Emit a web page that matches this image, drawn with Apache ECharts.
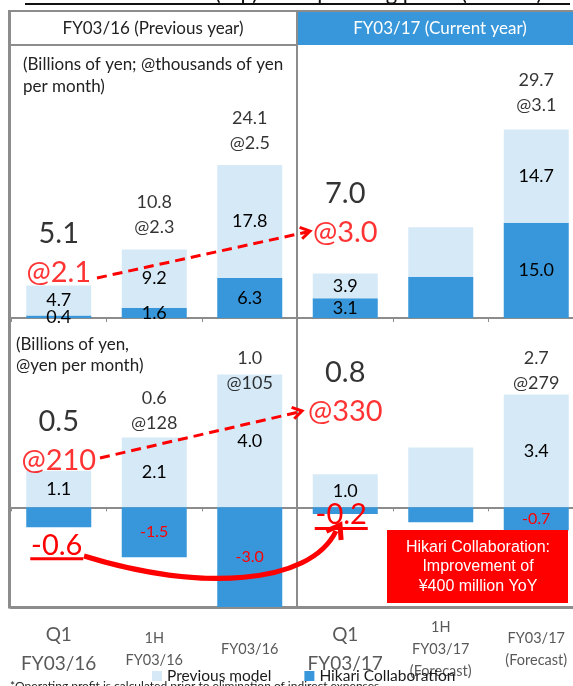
<!DOCTYPE html>
<html><head><meta charset="utf-8">
<script src="https://cdn.jsdelivr.net/npm/echarts@6/dist/echarts.min.js"></script>
<style>html,body{margin:0;padding:0;background:#fff}#c{width:573px;height:686px}</style>
</head><body><div id="c"></div>
<script>
// ---- data ----
const categories = ['Q1\nFY03/16', '1H\nFY03/16', 'FY03/16', 'Q1\nFY03/17', '1H\nFY03/17\n(Forecast)', 'FY03/17\n(Forecast)'];
const bigCategory = [true, false, false, true, false, false];
const hikariSales = [0.4, 1.6, 6.3, 3.1, 6.5, 15.0];
const prevSales = [4.7, 9.2, 17.8, 3.9, 7.8, 14.7];
const salesTotals = [5.1, 10.8, 24.1, 7.0, null, 29.7];
const salesARPU = ['@2.1', '@2.3', '@2.5', '@3.0', null, '@3.1'];
const prevProfit = [1.1, 2.1, 4.0, 1.0, 1.8, 3.4];
const hikariProfit = [-0.6, -1.5, -3.0, -0.2, -0.45, -0.7];
const profitTotals = [0.5, 0.6, 1.0, 0.8, null, 2.7];
const profitARPU = ['@210', '@128', '@105', '@330', null, '@279'];
const legendNames = ['Previous model', 'Hikari Collaboration'];

// ---- styles ----
const BLUE = '#3797DA', LIGHT = '#D6E9F7', GRID = '#8C8C8C', RED = '#FF0000';
const FONT = 'Lato';
const hiddenLabel = [false, false, false, false, true, false];
const salesOffsets = [7, -10, -9.5, -21.6, 0, -12];
const profitOffsets = [9, -1.5, 21, -42.6, 0, 1.6];
const bigNegOffsets = {0: [-2, 6], 3: [-4, -11]};

const chart = echarts.init(document.getElementById('c'), null, {renderer: 'canvas'});

function plainBar(vals) {
  return vals.map((v, i) => ({
    value: v,
    label: {show: !hiddenLabel[i]}
  }));
}
const barLabel = {show: true, position: 'inside', color: '#000', fontFamily: FONT, fontSize: 18,
  formatter: p => p.value.toFixed(1)};

function hikariProfitData() {
  return hikariProfit.map((v, i) => {
    if (hiddenLabel[i]) return {value: v, label: {show: false}};
    if (bigNegOffsets[i]) {
      return {value: v, label: {show: true, position: 'bottom', distance: 0, offset: bigNegOffsets[i],
        formatter: '{n|' + v.toFixed(1) + '}\n{u|}',
        rich: {n: {fontSize: 29, lineHeight: 24, color: RED, fontFamily: FONT},
               u: {height: 3, lineHeight: 3, width: 53, backgroundColor: RED}}}};
    }
    return {value: v, label: {show: true, color: RED, fontSize: 16}};
  });
}

function totalsData(tops, totals, arpu, offsets) {
  return tops.map((t, i) => {
    if (totals[i] == null) return '-';
    const big = bigCategory[i];
    const f = big ? '{T|' + totals[i].toFixed(1) + '}\n{A|' + arpu[i] + '}'
                  : '{t|' + totals[i].toFixed(1) + '}\n{a|' + arpu[i] + '}';
    return {value: t, label: {show: true, position: 'top', distance: 0, offset: [0, offsets[i]], formatter: f}};
  });
}
const totalsRich = {
  t: {fontFamily: FONT, fontSize: 18, lineHeight: 25, color: '#000'},
  a: {fontFamily: FONT, fontSize: 18, lineHeight: 25, color: '#000'},
  T: {fontFamily: FONT, fontSize: 29, lineHeight: 39, color: '#000'},
  A: {fontFamily: FONT, fontSize: 29, lineHeight: 39, color: RED}
};
const salesTops = hikariSales.map((v, i) => +(v + prevSales[i]).toFixed(2));

function chevron(tip, from, len, ang, width) {
  const a = Math.atan2(tip[1] - from[1], tip[0] - from[0]);
  const r = ang * Math.PI / 180;
  const p1 = [tip[0] - len * Math.cos(a - r), tip[1] - len * Math.sin(a - r)];
  const p2 = [tip[0] - len * Math.cos(a + r), tip[1] - len * Math.sin(a + r)];
  return {type: 'polyline', z: 120, shape: {points: [p1, tip, p2]},
    style: {stroke: RED, lineWidth: width, fill: null, lineJoin: 'miter'}};
}

const graphics = [
  // title (cut at top)
  {type: 'text', z: 100, x: 297, y: -7, style: {text: 'Broadband sales (top) and operating profit (bottom)',
    fontFamily: FONT, fontSize: 22, fill: '#111', align: 'center', verticalAlign: 'middle'}},
  {type: 'line', z: 100, shape: {x1: 25, y1: 4, x2: 570, y2: 4}, style: {stroke: '#111', lineWidth: 2}},
  // headers
  {type: 'rect', z: 90, shape: {x: 297, y: 11, width: 300, height: 34}, style: {fill: BLUE}},
  {type: 'line', z: 100, shape: {x1: 9, y1: 11, x2: 600, y2: 11}, style: {stroke: GRID, lineWidth: 2}},
  {type: 'line', z: 100, shape: {x1: 9, y1: 45, x2: 297, y2: 45}, style: {stroke: GRID, lineWidth: 2}},
  {type: 'text', z: 100, x: 153, y: 29, style: {text: 'FY03/16 (Previous year)', fontFamily: FONT, fontSize: 17,
    fill: '#222', align: 'center', verticalAlign: 'middle'}},
  {type: 'text', z: 100, x: 440, y: 29, style: {text: 'FY03/17 (Current year)', fontFamily: FONT, fontSize: 17,
    fill: '#fff', align: 'center', verticalAlign: 'middle'}},
  // frame
  {type: 'line', z: 100, shape: {x1: 9.5, y1: 10, x2: 9.5, y2: 608.5}, style: {stroke: GRID, lineWidth: 3}},
  {type: 'line', z: 100, shape: {x1: 297, y1: 11, x2: 297, y2: 607}, style: {stroke: GRID, lineWidth: 2}},
  // unit notes
  {type: 'text', z: 100, x: 23, y: 54, style: {text: '(Billions of yen; @thousands of yen\nper month)',
    fontFamily: FONT, fontSize: 17, lineHeight: 22, fill: '#222'}},
  {type: 'text', z: 100, x: 16, y: 334, style: {text: '(Billions of yen,\n@yen per month)',
    fontFamily: FONT, fontSize: 17, lineHeight: 21, fill: '#222'}},
  // dashed arrows
  {type: 'line', z: 120, shape: {x1: 97, y1: 278, x2: 307, y2: 232}, style: {stroke: RED, lineWidth: 3, lineDash: [10, 6]}},
  chevron([310, 231], [97, 278], 11, 32, 3),
  {type: 'line', z: 120, shape: {x1: 100, y1: 458, x2: 299, y2: 412}, style: {stroke: RED, lineWidth: 3, lineDash: [10, 6]}},
  chevron([302, 411], [100, 458], 11, 32, 3),
  // curved solid arrow
  {type: 'bezierCurve', z: 120, shape: {x1: 84, y1: 556, cpx1: 200, cpy1: 592, cpx2: 310, cpy2: 585, x2: 336, y2: 531},
    style: {stroke: RED, lineWidth: 5, fill: null}},
  chevron([340, 525], [318, 562], 15, 35, 5),
  // red box
  {type: 'rect', z: 110, shape: {x: 387, y: 530, width: 181, height: 73}, style: {fill: RED}},
  {type: 'text', z: 111, x: 478, y: 567, style: {text: 'Hikari Collaboration:\nImprovement of\n¥400 million YoY',
    fontFamily: 'Liberation Sans', fontSize: 16, lineHeight: 19.5, fill: '#fff', align: 'center', verticalAlign: 'middle'}},
  // footnote
  {type: 'text', z: 100, x: 10, y: 686, style: {text: '*Operating profit is calculated prior to elimination of indirect expenses',
    fontFamily: FONT, fontSize: 12, fill: '#222', verticalAlign: 'middle'}}
];

const option = {
  animation: false,
  textStyle: {fontFamily: FONT},
  legend: {data: legendNames, left: 152, top: 668, padding: 0, itemWidth: 10, itemHeight: 10, itemGap: 33, icon: 'rect',
    selectedMode: false, textStyle: {fontFamily: FONT, fontSize: 15.5, color: '#1a1a1a'}},
  grid: [
    {left: 11, top: 45, width: 573, height: 273, outerBoundsMode: 'none'},
    {left: 11, top: 318, width: 573, height: 289, outerBoundsMode: 'none'}
  ],
  xAxis: [
    {gridIndex: 0, type: 'category', data: categories,
      axisLine: {lineStyle: {color: GRID, width: 2}},
      axisTick: {show: true, length: 4, lineStyle: {color: GRID}}, axisLabel: {show: false}},
    {gridIndex: 1, type: 'category', data: categories, position: 'bottom',
      axisLine: {onZero: false, lineStyle: {color: GRID, width: 3}}, axisTick: {show: false},
      axisLabel: {interval: 0, margin: 42, verticalAlign: 'middle', color: '#595959',
        formatter: (v, i) => v.split('\n').map(s => (bigCategory[i] ? '{b|' : '{s|') + s + '}').join('\n'),
        rich: {b: {fontFamily: FONT, fontSize: 19, lineHeight: 29, color: '#595959'},
               s: {fontFamily: FONT, fontSize: 14.5, lineHeight: 22, color: '#595959'}}}},
    {gridIndex: 1, type: 'category', data: categories, position: 'top',
      axisLine: {onZero: true, lineStyle: {color: GRID, width: 2}},
      axisTick: {show: true, inside: true, length: 4, lineStyle: {color: GRID}}, axisLabel: {show: false}}
  ],
  yAxis: [
    {gridIndex: 0, type: 'value', min: 0, max: 43, show: false},
    {gridIndex: 1, type: 'value', min: -3, max: 5.7, show: false}
  ],
  series: [
    {name: 'Hikari Collaboration', type: 'bar', xAxisIndex: 0, yAxisIndex: 0, stack: 'sales', barWidth: 65,
      itemStyle: {color: BLUE}, label: barLabel, data: plainBar(hikariSales)},
    {name: 'Previous model', type: 'bar', xAxisIndex: 0, yAxisIndex: 0, stack: 'sales', barWidth: 65,
      itemStyle: {color: LIGHT}, label: barLabel, data: plainBar(prevSales)},
    {name: 'Previous model', type: 'bar', xAxisIndex: 1, yAxisIndex: 1, stack: 'profit', barWidth: 65,
      itemStyle: {color: LIGHT}, label: barLabel, data: plainBar(prevProfit)},
    {name: 'Hikari Collaboration', type: 'bar', xAxisIndex: 1, yAxisIndex: 1, stack: 'profit', barWidth: 65,
      itemStyle: {color: BLUE}, label: Object.assign({}, barLabel), data: hikariProfitData()},
    {type: 'scatter', xAxisIndex: 0, yAxisIndex: 0, symbolSize: 0, silent: true, z: 5,
      label: {show: true, rich: totalsRich}, data: totalsData(salesTops, salesTotals, salesARPU, salesOffsets)},
    {type: 'scatter', xAxisIndex: 1, yAxisIndex: 1, symbolSize: 0, silent: true, z: 5,
      label: {show: true, rich: totalsRich}, data: totalsData(prevProfit, profitTotals, profitARPU, profitOffsets)}
  ],
  graphic: graphics
};
chart.setOption(option);
</script></body></html>
